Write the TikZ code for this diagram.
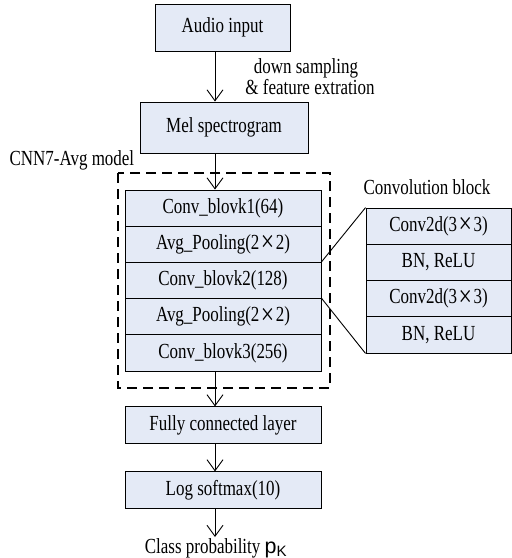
\documentclass[tikz,border=0pt]{standalone}
\usepackage{fontspec}
\setmainfont{Liberation Serif}[FakeStretch=0.79]
\newfontfamily\symfont{Liberation Sans}
\usetikzlibrary{arrows.meta}
\definecolor{boxfill}{RGB}{228,234,246}
\newcommand{\tm}{\kern1.5pt\raisebox{-2.5pt}{\fontsize{30}{21}\selectfont ×}\kern1.5pt}
\begin{document}
\begin{tikzpicture}[x=1pt,y=-1pt,
  font=\fontsize{21.5}{21}\selectfont,
  blk/.style={draw=black, line width=0.9pt, fill=boxfill, inner sep=0pt, minimum width=196pt, minimum height=36.2pt},
  cblk/.style={blk, minimum width=145pt},
  flow/.style={draw=black, line width=0.9pt, -{Straight Barb[length=11pt,width=16pt,line width=0.9pt]}},
  link/.style={draw=black, line width=0.9pt}]
\useasboundingbox (0,0) rectangle (512,558);

% input stage
\node[blk, minimum width=135pt, minimum height=47pt] (audio) at (222.5,27.5) {Audio input};
\node[blk, minimum width=168pt, minimum height=51pt] (mel) at (224,127.5) {Mel spectrogram};
\node[align=center] (note) at (310,77) {\kern-8pt down sampling\\\& feature extration};

% CNN7-Avg stack
\node[blk] (c1) at (223,208.1) {Conv\_blovk1(64)};
\node[blk] (p1) at (223,244.3) {Avg\_Pooling(2\tm2)};
\node[blk] (c2) at (223,280.5) {Conv\_blovk2(128)};
\node[blk] (p2) at (223,316.7) {Avg\_Pooling(2\tm2)};
\node[blk] (c3) at (223,352.9) {Conv\_blovk3(256)};
\draw[dashed, dash pattern=on 10pt off 6pt, line width=1.4pt] (118,173) rectangle (330,388);
\node[anchor=west] (cnnlabel) at (6,160) {CNN7-Avg model};

% head
\node[blk] (fc) at (223,425) {Fully connected layer};
\node[blk] (sm) at (223,490) {Log softmax(10)};
\node (out) at (216,548) {Class probability {\symfont p\textsubscript{K}}};

% convolution block detail
\node (cbtitle) at (427,187) {Convolution block};
\node[cblk] (b1) at (438.5,226.1) {Conv2d(3\tm3)};
\node[cblk] (b2) at (438.5,262.4) {BN, ReLU};
\node[cblk] (b3) at (438.5,298.6) {Conv2d(3\tm3)};
\node[cblk] (b4) at (438.5,334.9) {BN, ReLU};
\draw[link] (c2.north east) -- (b1.north west);
\draw[link] (p2.north east) -- (b4.south west);

% flow arrows along x = 215
\coordinate (axis) at (215,0);
\coordinate (end) at (215,537);
\draw[flow] (audio.south -| axis) -- (mel.north -| axis);
\draw[flow] (mel.south -| axis) -- (c1.north -| axis);
\draw[flow] (c3.south -| axis) -- (fc.north -| axis);
\draw[flow] (fc.south -| axis) -- (sm.north -| axis);
\draw[flow] (sm.south -| axis) -- (end);
\end{tikzpicture}
\end{document}
